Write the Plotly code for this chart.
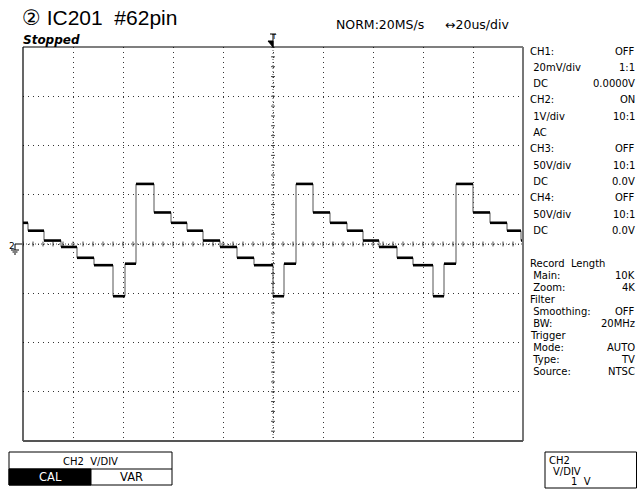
import plotly.graph_objects as go

# ---------------- data ----------------
# step start times (us) and CH2 levels (V) ; 20us/div, 1V/div
times_us = [-100, -98, -91.6, -84.8, -78.4, -71.6, -64, -59.2, -54.8, -47.6,
            -40.8, -34.4, -28, -21.2, -14.4, -7.6, 0, 4.4, 9.2, 16,
            22.8, 29.6, 36, 42.4, 49.6, 56, 64, 68.4, 73.2, 80,
            86.8, 93.6, 99.2]
levels_V = [0.43, 0.27, 0.07, -0.06, -0.28, -0.43, -1.06, -0.40, 1.22, 0.64,
            0.43, 0.27, 0.07, -0.06, -0.28, -0.43, -1.06, -0.40, 1.22, 0.64,
            0.43, 0.27, 0.07, -0.06, -0.28, -0.43, -1.06, -0.40, 1.22, 0.64,
            0.43, 0.27, 0.07]
end_time_us = 100

panel_labels = ["CH1:", " 20mV/div", " DC", "CH2:", " 1V/div", " AC",
                "CH3:", " 50V/div", " DC", "CH4:", " 50V/div", " DC"]
panel_values = ["OFF", "1:1", "0.0000V", "ON", "10:1", "",
                "OFF", "10:1", "0.0V", "OFF", "10:1", "0.0V"]
panel2_labels = ["Record  Length", " Main:", " Zoom:", "Filter", " Smoothing:", " BW:",
                 "Trigger", " Mode:", " Type:", " Source:"]
panel2_values = ["", "10K", "4K", "", "OFF", "20MHz", "", "AUTO", "TV", "NTSC"]

# ---------------- geometry, in screen pixels ----------------
W, H = 637, 491
L, R, T, B = 23, 523, 47, 441
FONT = "DejaVu Sans, sans-serif"
TFONT = "Liberation Sans, DejaVu Sans, sans-serif"


def px(x):  # screen pixel -> paper (plot-area) fraction
    return (x - L) / (R - L)


def py(y):
    return (B - y) / (B - T)


fig = go.Figure()

x_full = times_us + [end_time_us]
y_full = levels_V + [levels_V[-1]]
fig.add_trace(go.Scatter(x=x_full, y=y_full, mode="lines", line_shape="hv",
                         line=dict(color="#555555", width=1), hoverinfo="skip"))
hx, hy = [], []
for i, t in enumerate(times_us):
    t2 = times_us[i + 1] if i + 1 < len(times_us) else end_time_us
    hx += [t, t2, None]
    hy += [levels_V[i], levels_V[i], None]
fig.add_trace(go.Scatter(x=hx, y=hy, mode="lines",
                         line=dict(color="black", width=2.6), hoverinfo="skip"))

shapes = []
P = dict(xref="paper", yref="paper")


def seg(x0, y0, x1, y1, color="black", width=1):
    shapes.append(dict(type="line", **P, x0=px(x0), x1=px(x1), y0=py(y0), y1=py(y1),
                       line=dict(color=color, width=width)))


# center axis dotted lines + cross ticks
shapes.append(dict(type="line", xref="x", yref="y", x0=-100, x1=100, y0=0, y1=0,
                   line=dict(color="#555", width=1, dash="1px,2px"), layer="below"))
shapes.append(dict(type="line", xref="x", yref="y", x0=0, x1=0, y0=-4, y1=4,
                   line=dict(color="#555", width=1, dash="1px,2px"), layer="below"))
t = -100.0
while t <= 100.001:
    shapes.append(dict(type="line", xref="x", yref="y", x0=t, x1=t, y0=-0.05, y1=0.05,
                       line=dict(color="#444", width=1), layer="below"))
    t += 4
v = -4.0
while v <= 4.001:
    shapes.append(dict(type="line", xref="x", yref="y", x0=-0.8, x1=0.8, y0=v, y1=v,
                       line=dict(color="#444", width=1), layer="below"))
    v += 0.2

# frame
seg(L, T, R, T, "black", 1.2)
seg(L, T, L, B, "black", 1.2)
seg(R, T, R, B, "#777", 2)
seg(L, B, R, B, "#555", 2)

# ground symbol
gx, gy = 15, 244
seg(gx, gy, gx + 7, gy)
seg(gx, gy, gx, gy + 6)
seg(gx - 4, gy + 6, gx + 4, gy + 6)
seg(gx - 2.5, gy + 8, gx + 2.5, gy + 8)
seg(gx - 1, gy + 10, gx + 1, gy + 10)

# trigger marker
shapes.append(dict(type="path", **P,
                   path=f"M {px(268)},{py(41)} L {px(273)},{py(41)} L {px(273)},{py(47)} Z",
                   fillcolor="black", line=dict(color="black", width=1)))
seg(273, 34, 273, 47)
seg(270, 34, 276, 34)

# bottom-left soft key box
shapes.append(dict(type="rect", **P, x0=px(9), x1=px(172), y0=py(485), y1=py(452),
                   line=dict(color="black", width=1)))
seg(9, 469, 172, 469)
shapes.append(dict(type="rect", **P, x0=px(9), x1=px(91), y0=py(485), y1=py(469),
                   fillcolor="black", line=dict(color="black", width=1)))
# bottom-right box
shapes.append(dict(type="rect", **P, x0=px(545), x1=px(636.5), y0=py(488), y1=py(452),
                   line=dict(color="black", width=1)))

ann = []


def text(x, y, s, size=10, anchor="left", family=FONT, color="black"):
    ann.append(dict(x=px(x), y=py(y), xref="paper", yref="paper", text=s, showarrow=False,
                    xanchor=anchor, yanchor="middle", borderpad=0,
                    font=dict(size=size, family=family, color=color)))


text(21, 18, "② IC201  #62pin", size=21, family=TFONT)
text(22, 40, "<b><i>Stopped</i></b>", size=12)
text(335, 25, "NORM:20MS/s", size=12.5)
text(444, 25, "↔20us/div", size=12.5)
text(270, 37, "T", size=7)
text(8, 246, "2", size=9)

y0 = 51
step = 16.3
for i, (lab, val) in enumerate(zip(panel_labels, panel_values)):
    yy = y0 + i * step
    text(529, yy, lab, size=10)
    if val:
        text(636, yy, val, size=10, anchor="right")
y1 = 263
step2 = 12.1
for i, (lab, val) in enumerate(zip(panel2_labels, panel2_values)):
    yy = y1 + i * step2
    text(529, yy, lab, size=10)
    if val:
        text(636, yy, val, size=10, anchor="right")

text(90, 461, "CH2  V/DIV", size=10, anchor="center")
text(50, 477, "CAL", size=11.5, anchor="center", color="white")
text(131, 477, "VAR", size=11.5, anchor="center")
text(548, 460, "CH2", size=10)
text(552, 471, "V/DIV", size=10)
text(570, 482, "1  V", size=10)

fig.update_layout(
    width=W, height=H, autosize=False,
    margin=dict(l=L, r=W - R, t=T, b=H - B, pad=0, autoexpand=False),
    paper_bgcolor="white", plot_bgcolor="white",
    showlegend=False,
    shapes=shapes, annotations=ann,
    xaxis=dict(range=[-100, 100], dtick=20, tick0=-100, showticklabels=False, ticks="",
               showgrid=True, gridcolor="#333", gridwidth=1, griddash="1px,4px",
               zeroline=False, showline=False, fixedrange=True),
    yaxis=dict(range=[-4, 4], dtick=1, tick0=-4, showticklabels=False, ticks="",
               showgrid=True, gridcolor="#333", gridwidth=1, griddash="1px,4px",
               zeroline=False, showline=False, fixedrange=True),
)

fig.write_html("out.html", config={"displayModeBar": False},
               post_script="document.body.style.margin='0';document.body.style.overflow='hidden';")
